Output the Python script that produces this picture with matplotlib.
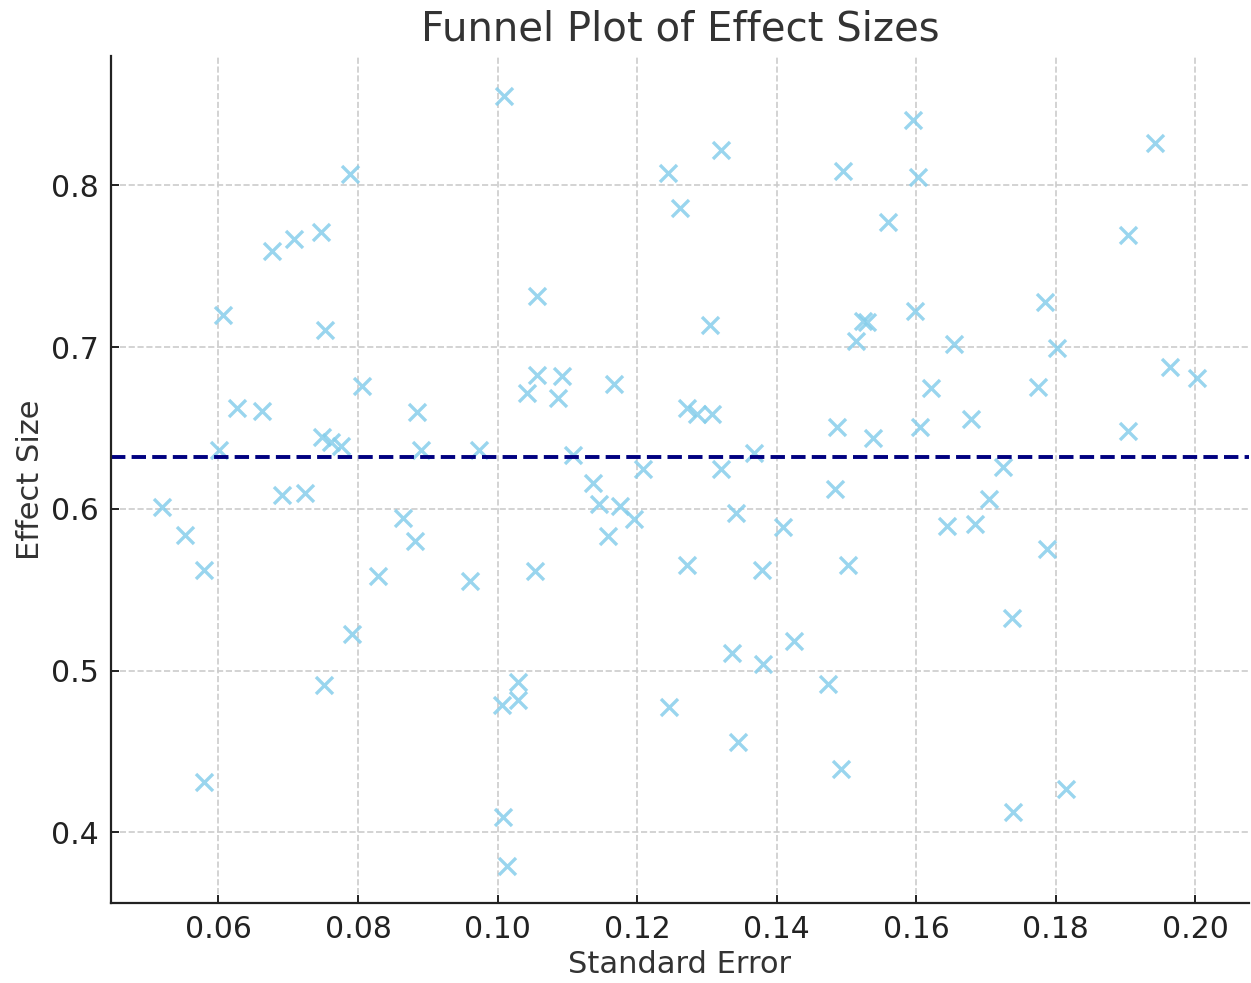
import numpy as np
import matplotlib
matplotlib.use("Agg")
import matplotlib.pyplot as plt

# standard errors and effect sizes
se = [0.0519, 0.0552, 0.0580, 0.0580, 0.0601, 0.0607, 0.0627, 0.0662, 0.0677, 0.0691,
      0.0709, 0.0724, 0.0747, 0.0748, 0.0752, 0.0753, 0.0762, 0.0775, 0.0789, 0.0791,
      0.0806, 0.0828, 0.0864, 0.0882, 0.0884, 0.0890, 0.0961, 0.0973, 0.1007, 0.1008,
      0.1010, 0.1013, 0.1029, 0.1030, 0.1042, 0.1054, 0.1057, 0.1057, 0.1086, 0.1093,
      0.1108, 0.1137, 0.1145, 0.1158, 0.1167, 0.1176, 0.1196, 0.1209, 0.1245, 0.1246,
      0.1262, 0.1271, 0.1272, 0.1286, 0.1308, 0.1304, 0.1320, 0.1321, 0.1336, 0.1342,
      0.1344, 0.1368, 0.1379, 0.1381, 0.1409, 0.1425, 0.1474, 0.1484, 0.1487, 0.1492,
      0.1495, 0.1502, 0.1514, 0.1524, 0.1530, 0.1538, 0.1559, 0.1595, 0.1599, 0.1606,
      0.1603, 0.1621, 0.1644, 0.1654, 0.1679, 0.1684, 0.1705, 0.1725, 0.1738, 0.1739,
      0.1775, 0.1785, 0.1787, 0.1802, 0.1815, 0.1904, 0.1904, 0.1942, 0.1964, 0.2003]
effect = [0.6013, 0.5836, 0.5620, 0.4309, 0.6364, 0.7198, 0.6625, 0.6605, 0.7594, 0.6083,
          0.7666, 0.6100, 0.7713, 0.6446, 0.4913, 0.7105, 0.6411, 0.6390, 0.8070, 0.5226,
          0.6759, 0.5587, 0.5945, 0.5799, 0.6597, 0.6364, 0.5554, 0.6364, 0.4787, 0.4097,
          0.8552, 0.3793, 0.4818, 0.4927, 0.6714, 0.5615, 0.7318, 0.6827, 0.6683, 0.6821,
          0.6333, 0.6161, 0.6030, 0.5832, 0.6770, 0.6017, 0.5935, 0.6246, 0.8078, 0.4775,
          0.7862, 0.6621, 0.5651, 0.6584, 0.6584, 0.7136, 0.8217, 0.6248, 0.5110, 0.5972,
          0.4556, 0.6347, 0.5622, 0.5039, 0.5889, 0.5183, 0.4915, 0.6121, 0.6508, 0.4393,
          0.8090, 0.5651, 0.7037, 0.7160, 0.7157, 0.6436, 0.7773, 0.8402, 0.7222, 0.6506,
          0.8053, 0.6749, 0.5896, 0.7019, 0.6553, 0.5908, 0.6059, 0.6260, 0.5327, 0.4126,
          0.6755, 0.7280, 0.5751, 0.6996, 0.4268, 0.7691, 0.6483, 0.8263, 0.6879, 0.6810]
mean_effect = 0.632

fig = plt.figure(figsize=(12.51, 9.83), dpi=100)
ax = fig.add_axes([0.0887, 0.0814, 0.9097, 0.8616])

ax.grid(True, linestyle='--', color='#cccccc', linewidth=1.2)
ax.set_axisbelow(True)

ax.scatter(se, effect, marker='x', s=150, color='skyblue', alpha=0.85, linewidths=2.4)
ax.axhline(mean_effect, color='navy', linestyle='--', linewidth=2.8)

ax.set_xlim(0.0446, 0.2077)
ax.set_ylim(0.3563, 0.880)
ax.set_xticks([0.06, 0.08, 0.10, 0.12, 0.14, 0.16, 0.18, 0.20])
ax.set_yticks([0.4, 0.5, 0.6, 0.7, 0.8])
ax.xaxis.set_major_formatter(matplotlib.ticker.FormatStrFormatter('%.2f'))
ax.yaxis.set_major_formatter(matplotlib.ticker.FormatStrFormatter('%.1f'))

ax.spines['top'].set_visible(False)
ax.spines['right'].set_visible(False)
for s in ['left', 'bottom']:
    ax.spines[s].set_linewidth(1.6)
    ax.spines[s].set_color('#222222')
ax.tick_params(direction='in', length=6, width=1.4, labelsize=21.5, colors='#222222', pad=9)

ax.set_title('Funnel Plot of Effect Sizes', fontsize=29, color='#333333', pad=11)
ax.set_xlabel('Standard Error', fontsize=22, color='#333333', labelpad=4)
ax.set_ylabel('Effect Size', fontsize=22, color='#333333', labelpad=4)

fig.savefig('out.png', dpi=100)
